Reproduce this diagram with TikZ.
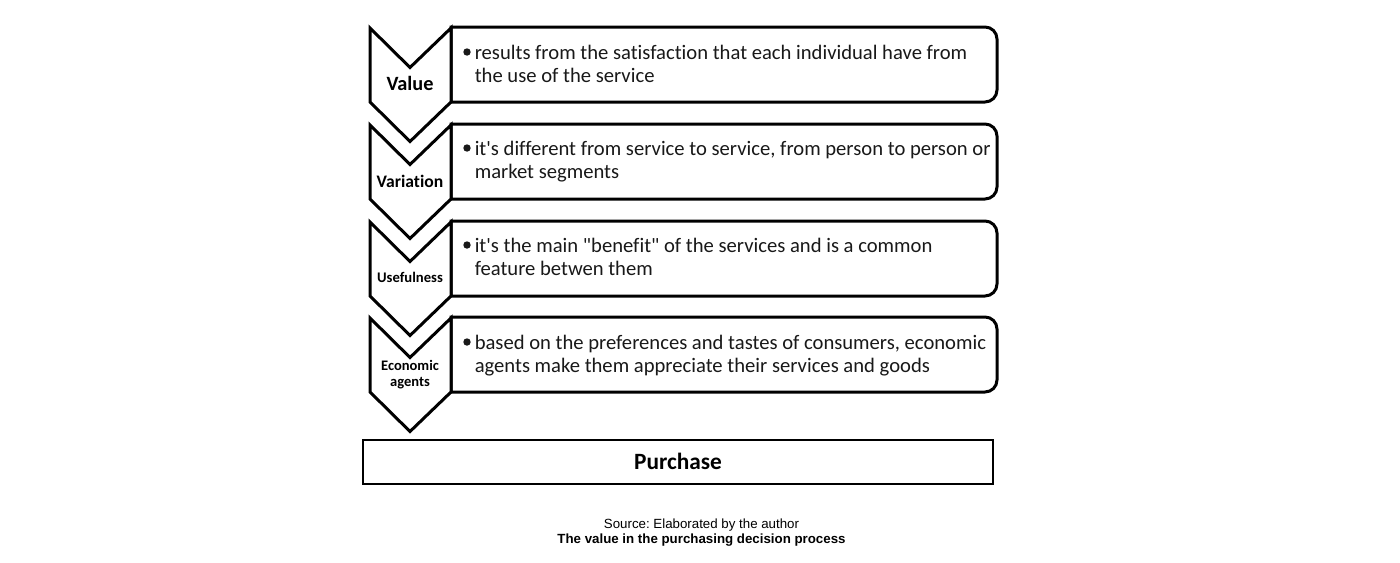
\documentclass[tikz,border=0pt]{standalone}
\usepackage{fontspec}
\newfontfamily\carl[Ligatures=NoCommon]{Carlito}
\newfontfamily\arialf{Liberation Sans}
\frenchspacing
\newcommand{\bodyline}[2]{\node[bodytext] at (474.5,#1) {#2};}
\tikzset{
  x=0.75pt,y=-0.75pt,
  outline/.style={draw=black,line width=2.25pt,line join=miter,fill=white},
  bodytext/.style={anchor=base west,inner sep=0pt,font=\carl\fontsize{15.47pt}{18pt}\selectfont,text=black!90},
  chevlabel/.style={align=center,inner sep=0pt},
  src/.style={anchor=base,inner sep=0pt,font=\arialf\fontsize{9.97pt}{11pt}\selectfont}
}
\newcommand{\stage}[1]{%
  \draw[outline] (451,#1) [rounded corners=9pt] -- (997,#1) -- (997,#1+75) [rounded corners=0pt] -- (451,#1+75) -- cycle;
  \draw[outline] (370,#1+1) -- (410,#1+40.5) -- (451,#1+1) -- (451,#1+75) -- (410,#1+114.5) -- (370,#1+75) -- cycle;
}
\begin{document}
\begin{tikzpicture}
\useasboundingbox (0,0) rectangle (1400,562);
\stage{27}
\stage{124}
\stage{221}
\stage{317}
\node[chevlabel,font=\carl\bfseries\fontsize{15.2pt}{16pt}\selectfont] (value) at (410,83.5) {Value};
\node[chevlabel,font=\carl\bfseries\fontsize{13.2pt}{14pt}\selectfont] (variation) at (410,181.5) {Variation};
\node[chevlabel,font=\carl\bfseries\fontsize{11pt}{12pt}\selectfont] (usefulness) at (410,277.5) {Usefulness};
\node[chevlabel,font=\carl\bfseries\fontsize{10.9pt}{12pt}\selectfont] (agents) at (410,375) {Economic\\agents};
\foreach \y in {52,148,245,342} {\fill[black!90] (467,\y) circle[radius=3.7];}
\bodyline{59}{results from the satisfaction that each individual have from}
\bodyline{82}{the use of the service}
\bodyline{155}{it's different from service to service, from person to person or}
\bodyline{178}{market segments}
\bodyline{252}{it's the main "benefit" of the services and is a common}
\bodyline{275}{feature betwen them}
\bodyline{349}{based on the preferences and tastes of consumers, economic}
\bodyline{372}{agents make them appreciate their services and goods}
\node[draw=black,line width=1.7pt,minimum width=473pt,minimum height=33pt,inner sep=0pt,font=\carl\bfseries\fontsize{17.5pt}{18pt}\selectfont] (purchase) at (678,462) {\raisebox{0.75pt}{Purchase}};
\node[src] (source) at (701.5,528) {Source: Elaborated by the author};
\node[src,font=\arialf\bfseries\fontsize{9.97pt}{11pt}\selectfont] (caption) at (701.5,543) {The value in the purchasing decision process};
\end{tikzpicture}
\end{document}
